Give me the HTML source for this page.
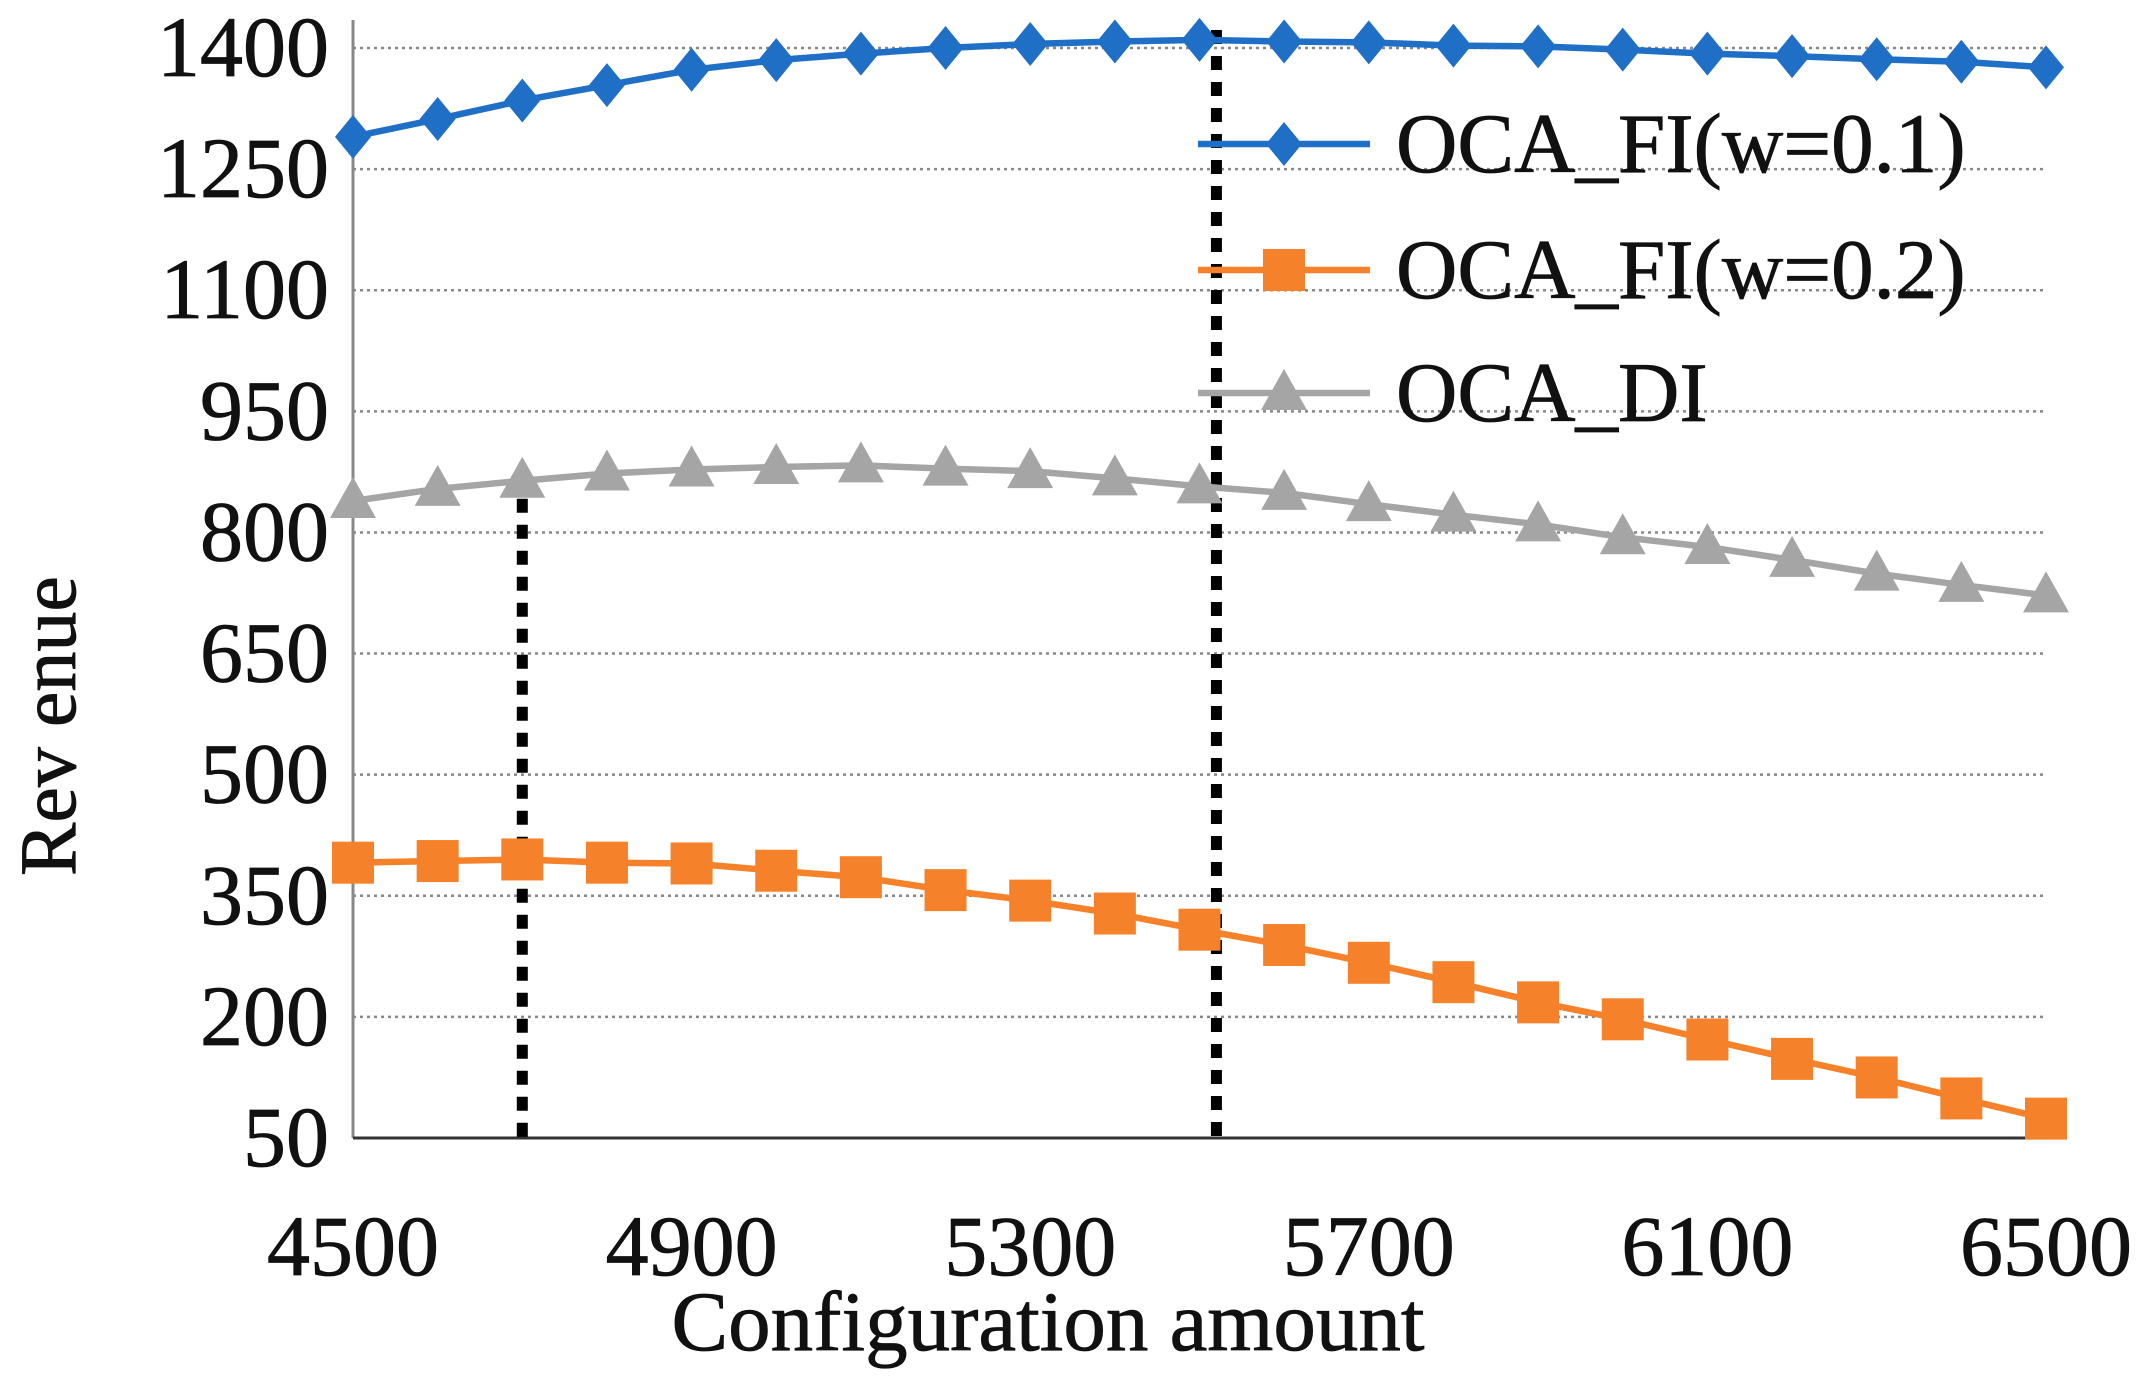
<!DOCTYPE html>
<html><head><meta charset="utf-8"><style>
html,body{margin:0;padding:0;background:#fff}
svg{display:block}
text{font-family:"Liberation Serif",serif;fill:#111}
</style></head><body>
<svg id="chart" width="2147" height="1386" viewBox="0 0 2147 1386" xmlns="http://www.w3.org/2000/svg"></svg>
<script>
const xValues=[4500,4600,4700,4800,4900,5000,5100,5200,5300,5400,5500,5600,5700,5800,5900,6000,6100,6200,6300,6400,6500];
const fi01=[1290,1312,1335,1354,1373,1385,1393,1400,1405,1408,1410,1408,1407,1403,1402,1398,1393,1390,1386,1383,1376];
const fi02=[391,393,395,391,390,381,373,357,344,328,308,289,267,243,218,197,172,148,125,99,74];
const di=[839,854,864,873,878,881,883,879,876,867,857,849,835,822,810,794,782,766,749,735,722];
const yTicks=[50,200,350,500,650,800,950,1100,1250,1400];
const xTicks=[4500,4900,5300,5700,6100,6500];
const refLines=[4700,5520];
const NS="http://www.w3.org/2000/svg";
const svg=document.getElementById('chart');
const X0=353,X1=2046,Y0=1138,Y1=48;
function sx(v){return X0+(v-4500)/2000*(X1-X0);}
function sy(v){return Y0-(v-50)/1350*(Y0-Y1);}
function mk(tag,attrs,parent){const e=document.createElementNS(NS,tag);for(const k in attrs)e.setAttribute(k,attrs[k]);(parent||svg).appendChild(e);return e;}
yTicks.forEach(t=>{
  if(t!==50){const g=mk('line',{x1:X0,x2:X1,y1:sy(t),y2:sy(t),stroke:'#888','stroke-width':2.5,'stroke-dasharray':'3 4'});
  
  }
  const tx=mk('text',{x:329,y:sy(t)+28,'text-anchor':'end','font-size':86,'stroke':'#111','stroke-width':0.8});
  tx.textContent=t;
  
  
});
xTicks.forEach(t=>{
  const tx=mk('text',{x:sx(t),y:1275,'text-anchor':'middle','font-size':86,'stroke':'#111','stroke-width':0.8});
  tx.textContent=t;
  
  
});
const ya=mk('line',{x1:X0,x2:X0,y1:20,y2:Y0,stroke:'#888','stroke-width':3});


const xa=mk('line',{x1:X0,x2:X1,y1:Y0,y2:Y0,stroke:'#333','stroke-width':3});


const rl1=mk('line',{x1:sx(refLines[0]),x2:sx(refLines[0]),y1:sy(di[2])+18,y2:Y0,stroke:'#000','stroke-width':11,'stroke-dasharray':'14 12'});


const rl2=mk('line',{x1:sx(refLines[1]),x2:sx(refLines[1]),y1:30,y2:Y0,stroke:'#000','stroke-width':11,'stroke-dasharray':'14 12'});


function marker(type,cx,cy,color,parent){
  if(type==='diamond')return mk('polygon',{points:`${cx},${cy-22} ${cx+18},${cy} ${cx},${cy+22} ${cx-18},${cy}`,fill:color},parent);
  if(type==='square')return mk('rect',{x:cx-21,y:cy-21,width:42,height:42,fill:color},parent);
  return mk('polygon',{points:`${cx},${cy-24} ${cx+23},${cy+17} ${cx-23},${cy+17}`,fill:color},parent);
}
function series(vals,color,type,name){
  const g=mk('g',{});
  
  
  const pl=mk('polyline',{points:vals.map((v,i)=>sx(xValues[i])+','+sy(v)).join(' '),fill:'none',stroke:color,'stroke-width':6.5},g);
  
  
  vals.forEach((v,i)=>{const m=marker(type,sx(xValues[i]),sy(v),color,g);
    
    });
}
series(di,'#a5a5a5','triangle','series-oca-di');
series(fi02,'#f5822a','square','series-oca-fi-w02');
series(fi01,'#1f6fc6','diamond','series-oca-fi-w01');
const leg=[['OCA_FI(w=0.1)','#1f6fc6','diamond',144],['OCA_FI(w=0.2)','#f5822a','square',270],['OCA_DI','#a5a5a5','triangle',393]];
leg.forEach(l=>{
  const g=mk('g',{});
  
  
  mk('line',{x1:1198,x2:1370,y1:l[3],y2:l[3],stroke:l[1],'stroke-width':6.5},g);
  marker(l[2],1284,l[3],l[1],g);
  const t=mk('text',{x:1396,y:l[3]+28,'font-size':85,'stroke':'#111','stroke-width':0.8},g);
  t.textContent=l[0];
});
const xt=mk('text',{x:1048,y:1350,'text-anchor':'middle','font-size':85,'stroke':'#111','stroke-width':0.8});
xt.textContent='Configuration amount';


const yt=mk('text',{x:0,y:0,'text-anchor':'middle','font-size':80,'stroke':'#111','stroke-width':0.8,transform:'translate(75,726) rotate(-90)'});
yt.textContent='Rev enue';


</script>
</body></html>
